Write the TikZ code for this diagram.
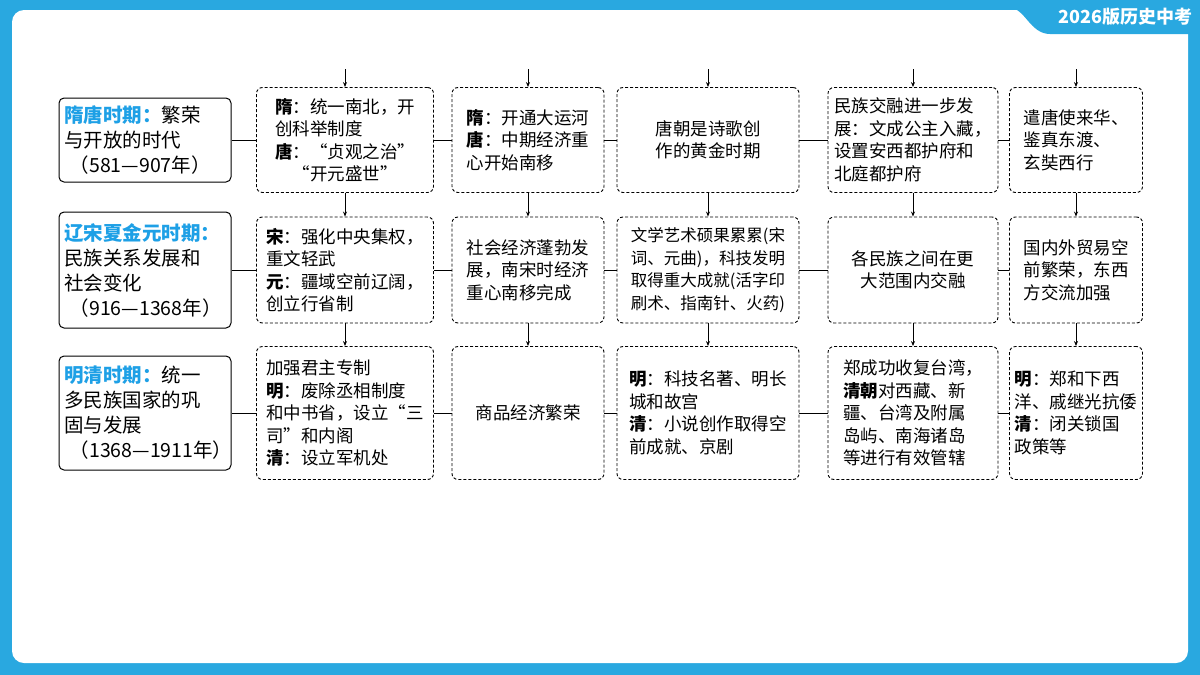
\documentclass[tikz,border=0pt]{standalone}
\usepackage{fontspec}
\setmainfont{Noto Sans CJK SC}
\usetikzlibrary{positioning,calc,arrows.meta}
\definecolor{frameblue}{HTML}{29A8E0}
\definecolor{keyblue}{HTML}{1EA0E6}
\tikzset{
  period/.style={draw, rounded corners=5pt, line width=1pt, align=left, font=\fontsize{19.5}{25}\selectfont, minimum width=172pt, text width=162pt, inner sep=4pt},
  fact/.style={draw, dash pattern=on 3pt off 2pt, rounded corners=6pt, line width=0.9pt, align=left, font=\fontsize{17.5}{22.5}\selectfont, inner sep=2pt},
  link/.style={line width=0.8pt},
  down/.style={line width=0.8pt, -{Stealth[length=5pt,width=4pt]}}
}
\newcommand{\kw}[1]{\textcolor{keyblue}{\bfseries #1}}
\newcommand{\yrs}[1]{\mbox{\hspace*{0.3em}（#1年）}}
\begin{document}
\begin{tikzpicture}[x=1pt,y=-1pt]
    \useasboundingbox (0,0) rectangle (1200,675);
    % frame
    \fill[frameblue] (0,0) rectangle (1200,675);
    \fill[white, rounded corners=12pt] (12,10) rectangle (1188,663);
    \fill[frameblue] (1010,0) -- (1010,8) .. controls (1025,8) and (1030,34) .. (1050,34) -- (1200,34) -- (1200,0) -- cycle;
    \node[text=white, font=\fontsize{18}{20}\selectfont\bfseries, anchor=east] (tag) at (1196,17) {2026版历史中考};

    % periods
    \node[period, minimum height=84pt] (p1) at (145,140) {\kw{隋唐时期：}繁荣\\与开放的时代\\\yrs{581—907}};
    \node[period, minimum height=116pt] (p2) at (145,270) {\kw{辽宋夏金元时期：}\\民族关系发展和\\社会变化\\\yrs{916—1368}};
    \node[period, minimum height=114pt] (p3) at (145,413) {\kw{明清时期：}统一\\多民族国家的巩\\固与发展\\\yrs{1368—1911}};

    % row 1
    \node[fact, minimum width=177pt, minimum height=105pt] (a1) at (345,140) {\textbf{隋}：统一南北，开\\创科举制度\\\textbf{唐}：“贞观之治”\\\hspace*{1em}“开元盛世”};
    \node[fact, minimum width=152pt, minimum height=105pt] (a2) at (528,140) {\textbf{隋}：开通大运河\\\textbf{唐}：中期经济重\\心开始南移};
    \node[fact, minimum width=182pt, minimum height=105pt, align=center] (a3) at (708,140) {唐朝是诗歌创\\作的黄金时期};
    \node[fact, minimum width=170pt, minimum height=105pt] (a4) at (913,140) {民族交融进一步发\\展：文成公主入藏，\\设置安西都护府和\\北庭都护府};
    \node[fact, minimum width=133pt, minimum height=105pt] (a5) at (1076,140) {遣唐使来华、\\鉴真东渡、\\玄奘西行};

    % row 2
    \node[fact, minimum width=177pt, minimum height=106pt] (b1) at (345,270) {\textbf{宋}：强化中央集权，\\重文轻武\\\textbf{元}：疆域空前辽阔，\\创立行省制};
    \node[fact, minimum width=152pt, minimum height=106pt] (b2) at (528,270) {社会经济蓬勃发\\展，南宋时经济\\重心南移完成};
    \node[fact, minimum width=182pt, minimum height=106pt, font=\fontsize{16.5}{22.5}\selectfont] (b3) at (708,270) {文学艺术硕果累累(宋\\词、元曲)，科技发明\\取得重大成就(活字印\\刷术、指南针、火药)};
    \node[fact, minimum width=170pt, minimum height=106pt, align=center] (b4) at (913,270) {各民族之间在更\\大范围内交融};
    \node[fact, minimum width=133pt, minimum height=106pt] (b5) at (1076,270) {国内外贸易空\\前繁荣，东西\\方交流加强};

    % row 3
    \node[fact, minimum width=177pt, minimum height=133pt] (c1) at (345,413) {加强君主专制\\\textbf{明}：废除丞相制度\\和中书省，设立“三\\司”和内阁\\\textbf{清}：设立军机处};
    \node[fact, minimum width=152pt, minimum height=133pt, align=center] (c2) at (528,413) {商品经济繁荣};
    \node[fact, minimum width=182pt, minimum height=133pt] (c3) at (708,413) {\textbf{明}：科技名著、明长\\城和故宫\\\textbf{清}：小说创作取得空\\前成就、京剧};
    \node[fact, minimum width=170pt, minimum height=133pt] (c4) at (913,413) {郑成功收复台湾，\\\textbf{清朝}对西藏、新\\疆、台湾及附属\\岛屿、南海诸岛\\等进行有效管辖};
    \node[fact, minimum width=133pt, minimum height=133pt] (c5) at (1076,413) {\textbf{明}：郑和下西\\洋、戚继光抗倭\\\textbf{清}：闭关锁国\\政策等};

    % horizontal links
    \foreach \r in {a,b,c}{
        \draw[link] (\r1.east) -- (\r2.west);
        \draw[link] (\r2.east) -- (\r3.west);
        \draw[link] (\r3.east) -- (\r4.west);
        \draw[link] (\r4.east) -- (\r5.west);
    }
    \draw[link] (p1.east) -- (a1.west);
    \draw[link] (p2.east) -- (b1.west);
    \draw[link] (p3.east) -- (c1.west);

    % vertical arrows
    \foreach \i in {1,...,5}{
        \coordinate (top\i) at ($(a\i.north)+(0,-18)$);
        \draw[down] (top\i) -- (a\i.north);
        \draw[down] (a\i.south) -- (b\i.north);
        \draw[down] (b\i.south) -- (c\i.north);
    }
\end{tikzpicture}
\end{document}
